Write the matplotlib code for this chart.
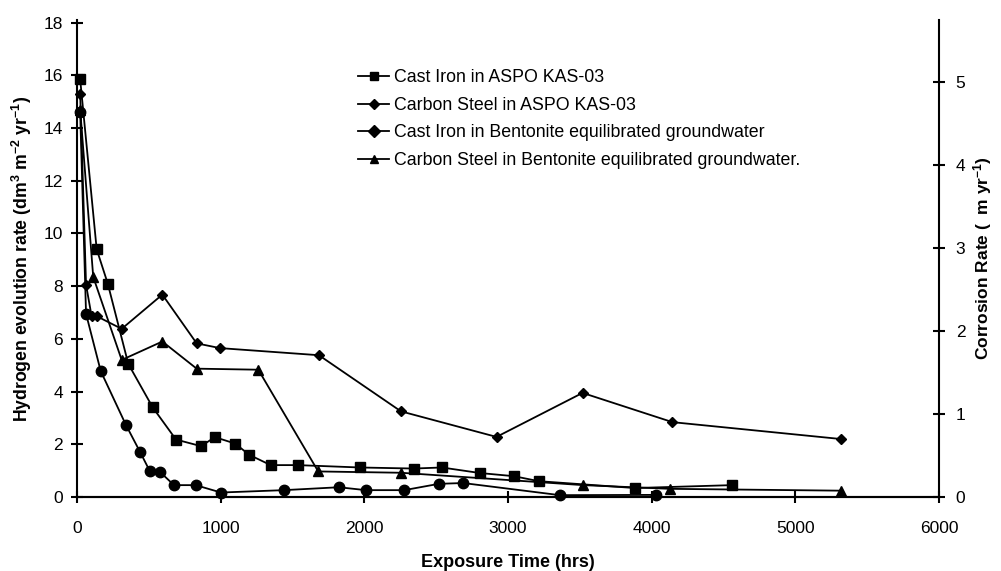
import matplotlib
matplotlib.use("Agg")
import matplotlib.pyplot as plt
from matplotlib.lines import Line2D

plt.rcParams['font.family'] = ['Liberation Sans', 'DejaVu Sans']
plt.rcParams['mathtext.default'] = 'regular'

# Cast Iron in ASPO KAS-03 (squares)
ci_aspo_x = [22, 137, 214, 357, 527, 689, 863, 960, 1100, 1199, 1348, 1536, 1969, 2345, 2540, 2804, 3041, 3215, 3883, 4558]
ci_aspo_y = [15.85, 9.4, 8.1, 5.05, 3.4, 2.18, 1.93, 2.27, 2.03, 1.6, 1.21, 1.21, 1.12, 1.08, 1.12, 0.91, 0.79, 0.6, 0.34, 0.45]

# Carbon Steel in ASPO KAS-03 (diamonds)
cs_aspo_x = [22, 63, 102, 141, 311, 594, 833, 995, 1684, 2255, 2920, 3519, 4145, 5317]
cs_aspo_y = [15.3, 8.05, 6.85, 6.85, 6.38, 7.68, 5.83, 5.65, 5.38, 3.25, 2.28, 3.95, 2.84, 2.2]

# Cast Iron in Bentonite equilibrated groundwater (circles)
ci_bent_x = [22, 63, 165, 341, 438, 508, 578, 675, 826, 1002, 1440, 1823, 2011, 2278, 2519, 2688, 3361, 4027]
ci_bent_y = [14.6, 6.95, 4.78, 2.73, 1.72, 0.97, 0.95, 0.45, 0.45, 0.17, 0.26, 0.37, 0.26, 0.26, 0.5, 0.53, 0.07, 0.08]

# Carbon Steel in Bentonite equilibrated groundwater (triangles)
cs_bent_x = [22, 113, 311, 594, 833, 1262, 1679, 2255, 3524, 4127, 5317]
cs_bent_y = [14.7, 8.35, 5.2, 5.9, 4.87, 4.83, 0.97, 0.92, 0.45, 0.31, 0.24]

labels = ["Cast Iron in ASPO KAS-03",
          "Carbon Steel in ASPO KAS-03",
          "Cast Iron in Bentonite equilibrated groundwater",
          "Carbon Steel in Bentonite equilibrated groundwater."]

fig = plt.figure(figsize=(10.01, 5.71), dpi=100)
ax = fig.add_axes([77/1001, 74/571, (939-77)/1001, 477/571])

lw = 1.3
ax.plot(ci_aspo_x, ci_aspo_y, color='black', lw=lw, marker='s', ms=7, clip_on=False)
ax.plot(cs_aspo_x, cs_aspo_y, color='black', lw=lw, marker='D', ms=5.5, clip_on=False)
ax.plot(ci_bent_x, ci_bent_y, color='black', lw=lw, marker='o', ms=7.5, clip_on=False)
ax.plot(cs_bent_x, cs_bent_y, color='black', lw=lw, marker='^', ms=7.5, clip_on=False)

ax.set_xlim(0, 6000)
ax.set_ylim(0, 18.1)
ax.set_xticks(range(0, 6001, 1000))
ax.set_yticks(range(0, 19, 2))

ax2 = ax.twinx()
ax2.set_ylim(0, 18.1 / 3.146)
ax2.set_yticks(range(0, 6))

for a in (ax, ax2):
    a.spines['top'].set_visible(False)
    for s in a.spines.values():
        s.set_linewidth(1.5)
    a.tick_params(direction='inout', length=8, width=1.5, labelsize=12.5)
ax2.spines['left'].set_visible(False)
ax.spines['right'].set_visible(False)
ax.tick_params(axis='x', pad=13)
ax.tick_params(axis='y', pad=6)
ax2.tick_params(axis='y', pad=8)

ax.set_xlabel("Exposure Time (hrs)", fontsize=13, fontweight='bold', labelpad=13)
ax.set_ylabel("Hydrogen evolution rate (dm$^{3}$ m$^{-2}$ yr$^{-1}$)", fontsize=12.7, fontweight='bold', labelpad=7)
ax2.set_ylabel("Corrosion Rate (  m yr$^{-1}$)", fontsize=12.5, fontweight='bold', labelpad=4)

handles = [Line2D([], [], color='black', lw=lw, marker='s', ms=6),
           Line2D([], [], color='black', lw=lw, marker='D', ms=5),
           Line2D([], [], color='black', lw=lw, marker='D', ms=6),
           Line2D([], [], color='black', lw=lw, marker='^', ms=6)]
ax2.legend(handles, labels, loc='upper left', bbox_to_anchor=(0.326, 0.897), frameon=False,
           fontsize=12.8, handlelength=1.75, handletextpad=0.25, labelspacing=0.6,
           borderpad=0, borderaxespad=0)

fig.savefig("out.png", dpi=100)
